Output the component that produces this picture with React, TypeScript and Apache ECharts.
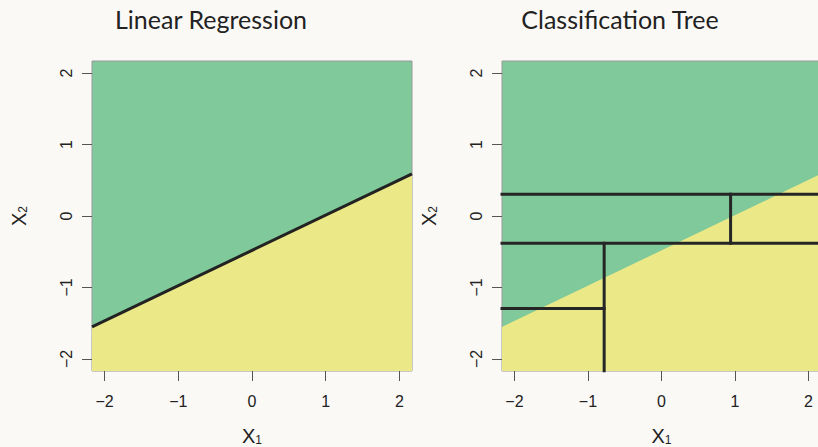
import React, { useEffect, useRef } from "react";
import * as echarts from "echarts";

const xTicks = [-2, -1, 0, 1, 2];
const yTicks = [-2, -1, 0, 1, 2];
const axisMin = -2.17;
const axisMax = 2.17;
// true linear decision boundary: [x1, x2] endpoints
const boundary: [number, number][] = [
  [-2.17, -1.553],
  [2.17, 0.59],
];
// classification tree partition segments
const treeSegments: [number, number][][] = [
  [[-2.17, 0.305], [2.17, 0.305]],
  [[-2.17, -0.383], [2.17, -0.383]],
  [[0.94, 0.305], [0.94, -0.383]],
  [[-0.78, -0.383], [-0.78, -2.17]],
  [[-2.17, -1.295], [-0.78, -1.295]],
];
const titles = ["Linear Regression", "Classification Tree"];

const GREEN = "#80c99a";
const YELLOW = "#ebe888";
const BG = "#faf9f6";
const INK = "#222222";

export default function App() {
  const ref = useRef<HTMLDivElement>(null);
  useEffect(() => {
    document.body.style.margin = "0";
    document.body.style.background = BG;
    if (!ref.current) return;
    const chart = echarts.init(ref.current, undefined, { renderer: "svg" });

    const grids = [
      { left: 92, top: 61, width: 320, height: 310 },
      { left: 502, top: 61, width: 319, height: 310 },
    ];

    const rich = {
      x: { fontSize: 20, fontFamily: "Liberation Sans", color: INK, lineHeight: 22, verticalAlign: "bottom" },
      s: { fontSize: 12, fontFamily: "Liberation Sans", color: INK, lineHeight: 18, verticalAlign: "bottom" },
    };

    const fmt = (v: number) => (v < 0 ? "\u2212" + Math.abs(v) : String(v));

    const xAxes = grids.map((_, i) => ({
      type: "value",
      gridIndex: i,
      min: axisMin,
      max: axisMax,
      axisLine: { show: false, onZero: false },
      splitLine: { show: false },
      axisTick: {
        show: true,
        customValues: xTicks,
        length: 10,
        lineStyle: { color: "#555", width: 1 },
      },
      axisLabel: {
        customValues: xTicks,
        fontSize: 16,
        fontFamily: "Liberation Sans",
        color: INK,
        margin: 22,
        formatter: fmt,
      },
      name: "{x|X}{s|1}",
      nameLocation: "middle",
      nameGap: 53,
      nameTextStyle: { rich },
    }));

    const yAxes = grids.map((_, i) => ({
      type: "value",
      gridIndex: i,
      min: axisMin,
      max: axisMax,
      axisLine: { show: false, onZero: false },
      splitLine: { show: false },
      axisTick: {
        show: true,
        customValues: yTicks,
        length: 10,
        lineStyle: { color: "#555", width: 1 },
      },
      axisLabel: {
        customValues: yTicks,
        rotate: 90,
        fontSize: 16,
        fontFamily: "Liberation Sans",
        color: INK,
        margin: 18,
        formatter: fmt,
      },
      name: "{x|X}{s|2}",
      nameLocation: "middle",
      nameGap: 63,
      nameRotate: 90,
      nameTextStyle: { rich },
    }));

    const series: any[] = [];
    grids.forEach((_, i) => {
      series.push({
        type: "line",
        xAxisIndex: i,
        yAxisIndex: i,
        data: boundary,
        symbol: "none",
        lineStyle: { color: INK, width: i === 0 ? 3 : 0 },
        areaStyle: { color: YELLOW, opacity: 1, origin: "start" },
        z: 2,
      });
    });
    treeSegments.forEach((seg) => {
      series.push({
        type: "line",
        xAxisIndex: 1,
        yAxisIndex: 1,
        data: seg,
        symbol: "none",
        lineStyle: { color: "#262626", width: 3, cap: "square" },
        z: 3,
      });
    });

    const titleStyle = (text: string) => ({
      text,
      font: "25px Lato",
      fill: INK,
      align: "center",
      verticalAlign: "middle",
      textAlign: "center",
      textVerticalAlign: "middle",
    });

    chart.setOption({
      animation: false,
      backgroundColor: BG,
      grid: grids.map((g) => ({
        ...g,
        show: true,
        backgroundColor: GREEN,
        borderColor: "#999",
        borderWidth: 1,
        outerBoundsMode: "none",
        containLabel: false,
      })),
      xAxis: xAxes,
      yAxis: yAxes,
      series,
      graphic: [
        { type: "text", x: 211, y: 19, style: titleStyle(titles[0]) },
        { type: "text", x: 620, y: 19, style: titleStyle(titles[1]) },
      ],
    });
    return () => chart.dispose();
  }, []);
  return <div ref={ref} style={{ width: 818, height: 447, background: BG }} />;
}
